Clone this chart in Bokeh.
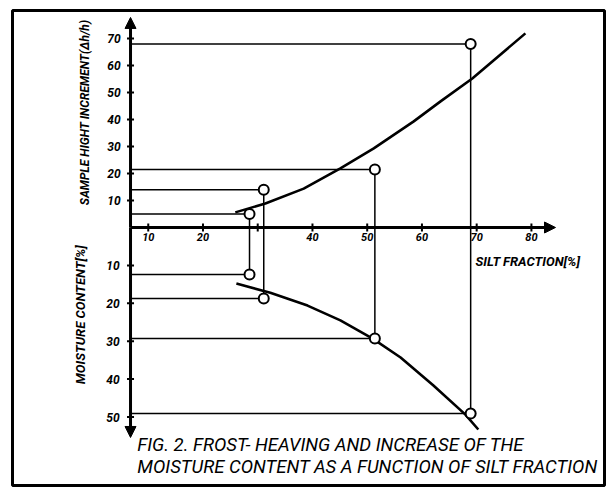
import numpy as np
from bokeh.plotting import figure
from bokeh.models import Range1d, Arrow, NormalHead
from bokeh.core.properties import value
from bokeh.embed import file_html
from bokeh.resources import INLINE

# ---------------- data ----------------
silt = [28.5, 31.1, 51.4, 68.9]            # silt fraction [%]
heave = [5.0, 14.0, 21.5, 68.0]            # sample height increment
moisture = [12.4, 18.7, 29.3, 49.1]        # moisture content [%]

heave_curve_x = [25.9, 31.4, 38.4, 45.1, 51.2, 58.5, 63.4, 69.2, 78.9]
heave_curve_y = [5.6, 8.9, 14.4, 21.9, 29.3, 39.3, 46.7, 55.2, 71.9]
moist_curve_x = [26.1, 32.3, 39.1, 45.1, 51.0, 56.1, 62.1, 67.9, 70.3]
moist_curve_y = [14.8, 17.2, 20.6, 24.5, 29.3, 34.3, 41.7, 49.3, 53.3]

x_ticks = [10, 20, 30, 40, 50, 60, 70, 80]
x_tick_labels = ["10", "20", "", "40", "50", "60", "70", "80"]
heave_ticks = [10, 20, 30, 40, 50, 60, 70]
heave_tick_labels = ["10", "20", "30", "40", "50", "60", "70"]
moist_ticks = [10, 20, 30, 40, 50]
moist_tick_labels = ["10", "20", "30", "40", "50"]

# axis geometry (data units)
AXIS_X = 6.76      # where the vertical axis crosses the silt axis
X_END = 84.4       # tip of silt axis arrow
HEAVE_END = 77.8   # tip of upper arrow
MOIST_END = 55.4   # tip of lower arrow

FONT = "Roboto, 'Liberation Sans', sans-serif"

p = figure(width=609, height=489,
           x_range=Range1d(-14.80, 93.35), y_range=Range1d(-95.56, 80.37),
           x_axis_type=None, y_axis_type=None,
           toolbar_location=None, output_backend="svg",
           min_border_left=12, min_border_right=5, min_border_top=10, min_border_bottom=4,
           outline_line_color="black", outline_line_width=3,
           background_fill_color="white", border_fill_color="white")
p.extra_y_ranges = {"moist": Range1d(start=68.07, end=-57.26)}

# ---------------- axes ----------------
p.segment(x0=[AXIS_X], y0=[0], x1=[X_END - 2], y1=[0], line_color="black", line_width=3)
p.add_layout(Arrow(end=NormalHead(size=11, fill_color="black", line_color="black"),
                   x_start=X_END - 3, y_start=0, x_end=X_END, y_end=0, line_width=3))
p.segment(x0=[AXIS_X], y0=[0], x1=[AXIS_X], y1=[HEAVE_END - 3], line_color="black", line_width=3)
p.add_layout(Arrow(end=NormalHead(size=11, fill_color="black", line_color="black"),
                   x_start=AXIS_X, y_start=HEAVE_END - 4, x_end=AXIS_X, y_end=HEAVE_END, line_width=3))
p.segment(x0=[AXIS_X], y0=[0], x1=[AXIS_X], y1=[MOIST_END - 2], line_color="black", line_width=3,
          y_range_name="moist")
p.add_layout(Arrow(end=NormalHead(size=11, fill_color="black", line_color="black"),
                   x_start=AXIS_X, y_start=MOIST_END - 3, x_end=AXIS_X, y_end=MOIST_END, line_width=3,
                   y_range_name="moist"))

# ticks
p.scatter(x=[AXIS_X] * len(heave_ticks), y=heave_ticks, marker="dash", size=7,
          line_color="black", line_width=2)
p.scatter(x=[AXIS_X] * len(moist_ticks), y=moist_ticks, marker="dash", size=7,
          line_color="black", line_width=2, y_range_name="moist")
p.scatter(x=x_ticks, y=[0] * len(x_ticks), marker="dash", angle=np.pi / 2, size=8,
          line_color="black", line_width=2)

# tick labels
p.text(x=[AXIS_X - 1.8] * len(heave_ticks), y=heave_ticks, text=heave_tick_labels,
       text_align="right", text_baseline="middle", text_font=value(FONT),
       text_font_style="bold italic", text_font_size="12px", text_color="black")
p.text(x=[AXIS_X - 2.0] * len(moist_ticks), y=moist_ticks, text=moist_tick_labels,
       text_align="right", text_baseline="middle", text_font=value(FONT),
       text_font_style="bold italic", text_font_size="12px", text_color="black",
       y_range_name="moist")
p.text(x=x_ticks, y=[-3.7] * len(x_ticks), text=x_tick_labels,
       text_align="center", text_baseline="alphabetic", text_font=value(FONT),
       text_font_style="bold italic", text_font_size="11px", text_color="black")

# ---------------- connector lines ----------------
p.segment(x0=[AXIS_X] * 4, y0=heave, x1=silt, y1=heave, line_color="black", line_width=1.5)
p.segment(x0=silt, y0=[0] * 4, x1=silt, y1=heave, line_color="black", line_width=1.5)
p.segment(x0=silt, y0=[0] * 4, x1=silt, y1=moisture, line_color="black", line_width=1.5,
          y_range_name="moist")
p.segment(x0=[AXIS_X] * 4, y0=moisture, x1=silt, y1=moisture, line_color="black", line_width=1.5,
          y_range_name="moist")

# ---------------- curves ----------------
p.line(heave_curve_x, heave_curve_y, line_color="black", line_width=2.6)
p.line(moist_curve_x, moist_curve_y, line_color="black", line_width=2.6, y_range_name="moist")

# ---------------- measured points ----------------
p.scatter(silt, heave, size=10, fill_color="white", line_color="black", line_width=2)
p.scatter(silt, moisture, size=10, fill_color="white", line_color="black", line_width=2,
          y_range_name="moist")

# ---------------- titles ----------------
p.text(x=[-1.6], y=[42.6], text=["SAMPLE HIGHT INCREMENT(Δh/h)"], angle=np.pi / 2,
       text_align="center", text_baseline="middle", text_font=value(FONT),
       text_font_style="bold italic", text_font_size="12px", text_color="black")
p.text(x=[-2.4], y=[23.0], text=["MOISTURE CONTENT[%]"], angle=np.pi / 2,
       text_align="center", text_baseline="middle", text_font=value(FONT),
       text_font_style="bold italic", text_font_size="13px", text_color="black",
       y_range_name="moist")
p.text(x=[69.8], y=[9.0], text=["SILT FRACTION[%]"],
       text_align="left", text_baseline="alphabetic", text_font=value(FONT),
       text_font_style="bold italic", text_font_size="13px", text_color="black",
       y_range_name="moist")
p.text(x=[8.0, 8.0], y=[57.5, 63.1],
       text=["FIG. 2. FROST- HEAVING AND INCREASE OF THE",
             "MOISTURE CONTENT AS A FUNCTION OF SILT FRACTION"],
       text_align="left", text_baseline="alphabetic", text_font=value(FONT),
       text_font_style="italic", text_font_size="18.5px", text_color="black",
       y_range_name="moist")

open("out.html", "w").write(file_html(p, INLINE))
